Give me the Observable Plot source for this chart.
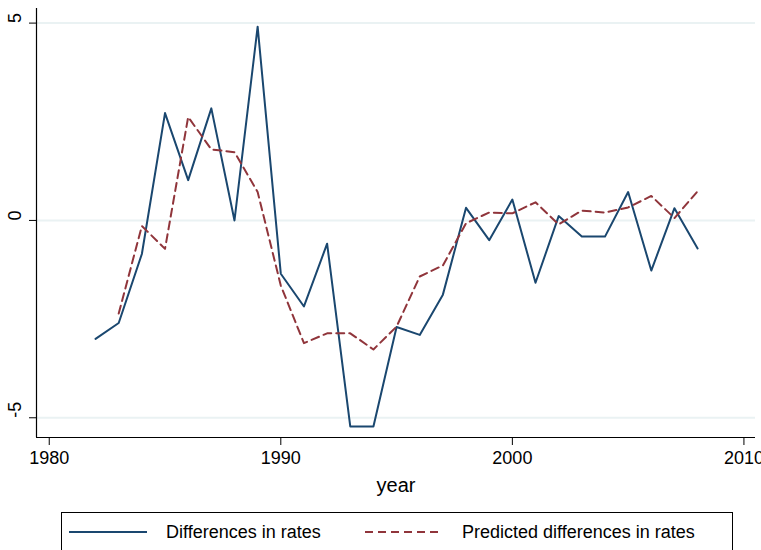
<!DOCTYPE html>
<html>
<head>
<meta charset="utf-8">
<script src="https://cdn.jsdelivr.net/npm/d3@7"></script>
<script src="https://cdn.jsdelivr.net/npm/@observablehq/plot@0.6"></script>
<style>
  html, body { margin: 0; padding: 0; background: #fff; }
  body { width: 761px; height: 550px; overflow: hidden; font-family: "Liberation Sans", Arial, sans-serif; }
  #chart svg { display: block; }
  #legend { position: absolute; left: 61px; top: 512px; width: 672px; height: 44px; border: 1px solid #000; box-sizing: border-box; }
</style>
</head>
<body>
<div id="chart"></div>
<div id="legend"></div>
<script>
const years = [1982, 1983, 1984, 1985, 1986, 1987, 1988, 1989, 1990, 1991, 1992, 1993, 1994, 1995, 1996, 1997, 1998, 1999, 2000, 2001, 2002, 2003, 2004, 2005, 2006, 2007, 2008];
const actualValues = [-3.0, -2.6, -0.85, 2.72, 1.02, 2.84, 0.0, 4.91, -1.35, -2.18, -0.59, -5.22, -5.22, -2.7, -2.9, -1.88, 0.32, -0.5, 0.53, -1.58, 0.11, -0.41, -0.41, 0.72, -1.27, 0.31, -0.71];
const predYears = [1983, 1984, 1985, 1986, 1987, 1988, 1989, 1990, 1991, 1992, 1993, 1994, 1995, 1996, 1997, 1998, 1999, 2000, 2001, 2002, 2003, 2004, 2005, 2006, 2007, 2008];
const predValues = [-2.36, -0.14, -0.72, 2.62, 1.8, 1.73, 0.72, -1.65, -3.11, -2.86, -2.86, -3.27, -2.69, -1.42, -1.14, -0.07, 0.2, 0.18, 0.46, -0.1, 0.25, 0.2, 0.33, 0.62, 0.06, 0.74];
const xTicks = [1980, 1990, 2000, 2010];
const yTicks = [-5, 0, 5];
const xDomain = [1979.45, 2010.5];
const yDomain = [-5.5, 5.37];
const seriesNames = ["Differences in rates", "Predicted differences in rates"];
const seriesColors = ["#1a476f", "#90353b"];
const xLabel = "year";

const actual = years.map((y, i) => ({year: y, value: actualValues[i]}));
const pred = predYears.map((y, i) => ({year: y, value: predValues[i]}));

const fontFamily = '"Liberation Sans", Arial, sans-serif';

const chart = Plot.plot({
  width: 761,
  height: 500,
  marginLeft: 36,
  marginRight: 6,
  marginTop: 8,
  marginBottom: 63,
  style: {fontFamily, fontSize: "18px", color: "#000", background: "#fff"},
  x: {domain: xDomain, label: null},
  y: {domain: yDomain, label: null},
  marks: [
    Plot.gridY(yTicks, {stroke: "#eaf2f3", strokeOpacity: 1, strokeWidth: 2}),
    Plot.ruleX([xDomain[0]], {stroke: "#000", strokeWidth: 1.2}),
    Plot.ruleY([yDomain[0]], {stroke: "#000", strokeWidth: 1.2}),
    Plot.axisY(yTicks, {tickSize: 7, stroke: "#000", text: null, label: null}),
    Plot.text(yTicks, {y: d => d, text: d => String(d), frameAnchor: "left", dx: -21, rotate: -90, fontSize: 18, fill: "#000"}),
    Plot.axisX(xTicks, {tickSize: 8, tickPadding: 6, stroke: "#000", fontSize: 18, label: null, tickFormat: d => String(d)}),
    Plot.text([xLabel], {frameAnchor: "bottom", dy: 54, fontSize: 20, fill: "#000", text: d => d}),
    Plot.line(actual, {x: "year", y: "value", stroke: seriesColors[0], strokeWidth: 2}),
    Plot.line(pred, {x: "year", y: "value", stroke: seriesColors[1], strokeWidth: 2, strokeDasharray: "8,5"})
  ]
});
document.getElementById("chart").appendChild(chart);

// Legend
const leg = d3.select("#legend").append("svg").attr("width", 670).attr("height", 42)
  .style("font-family", fontFamily).style("font-size", "18px");
const itemX = [7, 303];
seriesNames.forEach((name, i) => {
  const g = leg.append("g").attr("transform", `translate(${itemX[i]},19)`);
  g.append("line").attr("x1", 0).attr("x2", 78).attr("y1", 0).attr("y2", 0)
    .attr("stroke", seriesColors[i]).attr("stroke-width", 2)
    .attr("stroke-dasharray", i === 1 ? "8,5" : null);
  g.append("text").attr("x", 97).attr("y", 0).attr("dy", "0.35em").attr("fill", "#000").text(name);
});
</script>
</body>
</html>
